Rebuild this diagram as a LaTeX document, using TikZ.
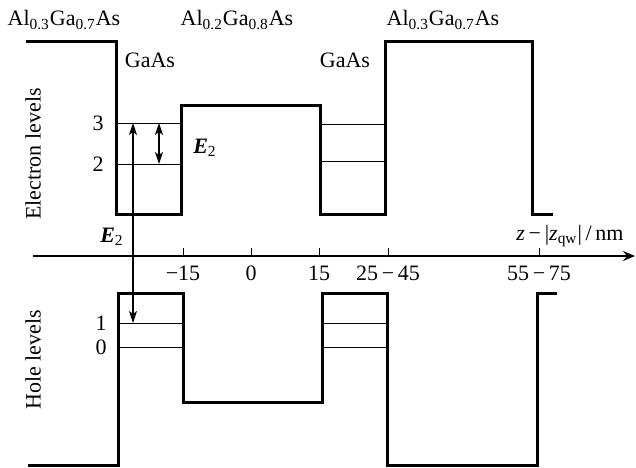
\documentclass[tikz,border=0pt]{standalone}
\usepackage{fontspec}
\setmainfont{Liberation Serif}
\usetikzlibrary{arrows.meta}

\newcommand{\alga}[2]{Al\textsubscript{#1}Ga\textsubscript{#2}As}
\newcommand{\Etwo}{\textbf{\textit{E}}\textsubscript{2}}

\begin{document}
\begin{tikzpicture}[x=0.5pt,y=-0.5pt,
  band/.style={line width=1.5pt,line join=miter},
  lvl/.style={line width=0.5pt},
  arr/.style={{Stealth[length=6pt,width=4pt,inset=1.5pt]}-{Stealth[length=6pt,width=4pt,inset=1.5pt]},line width=0.6pt},
  axis/.style={-{Stealth[length=6pt,width=5pt,inset=2pt]},line width=0.6pt},
  lbl/.style={font=\fontsize{11}{13}\selectfont,inner sep=1pt}
]
\useasboundingbox (0,0) rectangle (636,467);
% Material labels
\node[lbl] (m1) at (64,20) {\alga{0.3}{0.7}};
\node[lbl] (m2) at (237,20) {\alga{0.2}{0.8}};
\node[lbl] (m3) at (443,20) {\alga{0.3}{0.7}};
\node[lbl] (w1) at (150,60) {GaAs};
\node[lbl] (w2) at (345,60) {GaAs};
% Side labels
\node[lbl,rotate=90] (elab) at (33,154) {Electron levels};
\node[lbl,rotate=90] (hlab) at (33,360) {Hole levels};
% Electron band
\draw[band] (26,41) -| (116,214) -| (181,105) -| (320,214) -| (385,41) -| (532,214) -- (553,214);
% Hole band
\draw[band] (28,465) -| (118,293) -| (183,402) -| (322,293) -| (387,465) -| (537,293) -- (557,293);
% Levels
\draw[lvl] (116,123) -- (181,123);
\draw[lvl] (116,164) -- (181,164);
\draw[lvl] (320,124) -- (385,124);
\draw[lvl] (320,161) -- (385,161);
\draw[lvl] (118,323) -- (183,323);
\draw[lvl] (118,347) -- (183,347);
\draw[lvl] (322,323) -- (387,323);
\draw[lvl] (322,347) -- (387,347);
\node[lbl] (n3) at (98,123) {3};
\node[lbl] (n2) at (98,164) {2};
\node[lbl] (n1) at (101,323) {1};
\node[lbl] (n0) at (101,347) {0};
% Transitions
\coordinate (e3) at (133,123);
\coordinate (h1) at (133,323);
\draw[arr] (h1) -- (e3);
\coordinate (a3) at (159,123);
\coordinate (a2) at (159,164);
\draw[arr] (a2) -- (a3);
\node[lbl] (t1) at (205,148) {\Etwo};
\node[lbl] (t2) at (112,237) {\Etwo};
% Axis
\coordinate (ax0) at (33,256);
\coordinate (ax1) at (635,256);
\draw[axis] (ax0) -- (ax1);
\foreach \x/\t in {183/−15,251/0,319/15,388/25\,−\,45,539/55\,−\,75}{
  \draw[lvl] (\x,256) -- (\x,248);
  \node[lbl] (tk\x) at (\x,273) {\t};
}
\node[lbl] (zlab) at (570,236) {\textit{z}\,−\,|\textit{z}\textsubscript{qw}|\,/\,nm};
\end{tikzpicture}
\end{document}
